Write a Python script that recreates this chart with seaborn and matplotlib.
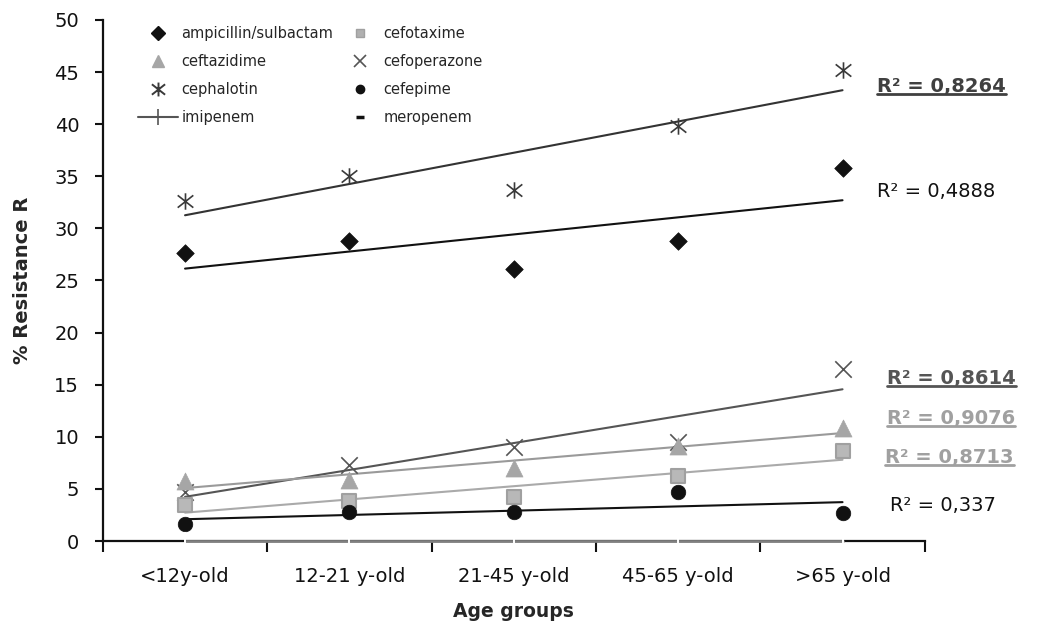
import matplotlib
matplotlib.use("Agg")
import matplotlib.pyplot as plt
from matplotlib.lines import Line2D
from matplotlib.path import Path
import numpy as np
import seaborn as sns

# Data
age_groups = ["<12y-old", "12-21 y-old", "21-45 y-old", "45-65 y-old", ">65 y-old"]

ampicillin_sulbactam = [27.6, 28.8, 26.1, 28.8, 35.8]
cephalotin = [32.6, 35.0, 33.7, 39.8, 45.2]
cefoperazone = [4.7, 7.3, 9.0, 9.5, 16.5]
ceftazidime = [5.8, 5.9, 7.0, 9.1, 10.8]
cefotaxime = [3.45, 3.8, 4.25, 6.2, 8.6]
cefepime = [1.6, 2.8, 2.75, 4.7, 2.7]
imipenem = [0, 0, 0, 0, 0]
meropenem = [0, 0, 0, 0, 0]

r2_names = ["cephalotin", "ampicillin/sulbactam", "cefoperazone",
            "ceftazidime", "cefotaxime", "cefepime"]
r2_values = ["0,8264", "0,4888", "0,8614", "0,9076", "0,8713", "0,337"]

sns.set_theme(style="ticks")
plt.rcParams["font.family"] = ["DejaVu Sans"]

# asterisk: vertical bar plus an X
asterisk = Path(
    [(0, -1), (0, 1), (-0.95, -0.75), (0.95, 0.75), (-0.95, 0.75), (0.95, -0.75)],
    [Path.MOVETO, Path.LINETO] * 3,
)

series = {
    "ampicillin/sulbactam": ampicillin_sulbactam,
    "cephalotin": cephalotin,
    "cefoperazone": cefoperazone,
    "ceftazidime": ceftazidime,
    "cefotaxime": cefotaxime,
    "cefepime": cefepime,
}

# marker, size (pt^2), face colour, edge colour, edge width, line colour
styles = {
    "ampicillin/sulbactam": ("D", 80, "#111111", "#111111", 0.5, "#111111"),
    "cephalotin": (asterisk, 140, "#3a3a3a", "#3a3a3a", 1.2, "#333333"),
    "cefoperazone": ("x", 140, "#555555", "#555555", 1.2, "#555555"),
    "ceftazidime": ("^", 150, "#a6a6a6", "#a6a6a6", 0.5, "#9a9a9a"),
    "cefotaxime": ("s", 90, "#b8b8b8", "#a0a0a0", 1.5, "#aaaaaa"),
    "cefepime": ("o", 110, "#111111", "#111111", 0.5, "#111111"),
}

x = np.arange(len(age_groups))

fig, ax = plt.subplots(figsize=(10.39, 6.24), dpi=100)
fig.subplots_adjust(left=0.099, right=0.890, bottom=0.133, top=0.968)

for name, vals in series.items():
    marker, size, fc, ec, elw, lc = styles[name]
    sns.regplot(
        x=x, y=vals, ax=ax, ci=None, marker=marker,
        scatter_kws=dict(s=size, color=fc, edgecolors=ec, linewidths=elw,
                         alpha=1, zorder=3),
        line_kws=dict(color=lc, lw=1.5, zorder=2),
    )

# zero series along the x axis
sns.lineplot(x=x, y=meropenem, ax=ax, color="#111111", marker="_",
             markersize=8, markeredgewidth=2, lw=0, zorder=1)
sns.lineplot(x=x, y=imipenem, ax=ax, color="#808080", marker="|",
             markersize=13, markeredgewidth=1.4, lw=2, zorder=6,
             clip_on=False)

ax.set_xlim(-0.5, len(age_groups) - 0.5)
ax.set_ylim(0, 50)
ax.set_yticks(np.arange(0, 51, 5))
ax.set_xticks(x)
ax.set_xticklabels(age_groups)
ax.set_xticks(np.arange(-0.5, len(age_groups), 1), minor=True)
ax.tick_params(axis="x", which="major", length=0, pad=19, labelsize=14,
               colors="#111111")
ax.tick_params(axis="x", which="minor", length=8, width=1.5,
               direction="out", color="#111111")
ax.tick_params(axis="y", length=6, width=1.5, pad=11, labelsize=14,
               colors="#111111")

sns.despine(ax=ax)
for side in ["left", "bottom"]:
    ax.spines[side].set_linewidth(1.6)
    ax.spines[side].set_color("#111111")

ax.set_xlabel("Age groups", fontsize=13.5, fontweight="bold")
ax.set_ylabel("% Resistance R", fontsize=14, fontweight="bold")
ax.xaxis.set_label_coords(0.5, -0.118)
ax.yaxis.set_label_coords(-0.086, 0.5)

# legend, two columns, filled column-wise
handles = [
    Line2D([], [], ls="", marker="D", ms=7, color="#111111"),
    Line2D([], [], ls="", marker="^", ms=9, color="#a6a6a6"),
    Line2D([], [], ls="", marker=asterisk, ms=10, mew=1.4, color="#3a3a3a"),
    Line2D([], [], ls="-", lw=1.5, marker="|", ms=12, mew=1.2, color="#555555"),
    Line2D([], [], ls="", marker="s", ms=5.5, color="#b0b0b0", mec="#a0a0a0"),
    Line2D([], [], ls="", marker="x", ms=9, mew=1.2, color="#555555"),
    Line2D([], [], ls="", marker="o", ms=6, color="#111111"),
    Line2D([], [], ls="", marker="_", ms=6, mew=2.5, color="#111111"),
]
labels = ["ampicillin/sulbactam", "ceftazidime", "cephalotin", "imipenem",
          "cefotaxime", "cefoperazone", "cefepime", "meropenem"]
ax.legend(handles, labels, ncol=2, frameon=False, fontsize=10.5,
          loc="upper left", bbox_to_anchor=(0.043, 0.988), borderpad=0,
          borderaxespad=0, handlelength=2.7, handletextpad=0.25,
          columnspacing=0.5, labelspacing=0.88)

# R^2 annotations next to the trend line ends
r2_label_x = [4.21, 4.21, 4.27, 4.27, 4.26, 4.29]
r2_label_y = [43.6, 33.5, 15.6, 11.8, 8.0, 3.45]
r2_colors = ["#404040", "#111111", "#555555", "#a0a0a0", "#a0a0a0", "#111111"]
r2_bold = [True, False, True, True, True, False]

texts = []
for val, tx, ty, col, bold in zip(r2_values, r2_label_x, r2_label_y,
                                  r2_colors, r2_bold):
    t = ax.text(tx, ty, "R² = " + val, color=col, fontsize=14,
                fontweight="bold" if bold else "normal",
                ha="left", va="center", clip_on=False)
    texts.append((t, bold, col))

# underline the bold labels
fig.canvas.draw()
renderer = fig.canvas.get_renderer()
for t, bold, col in texts:
    if not bold:
        continue
    bb = t.get_window_extent(renderer).transformed(fig.transFigure.inverted())
    fig.add_artist(Line2D([bb.x0, bb.x1], [bb.y0 + 0.003, bb.y0 + 0.003],
                          color=col, lw=2, transform=fig.transFigure))

plt.savefig("out.png", dpi=100)
